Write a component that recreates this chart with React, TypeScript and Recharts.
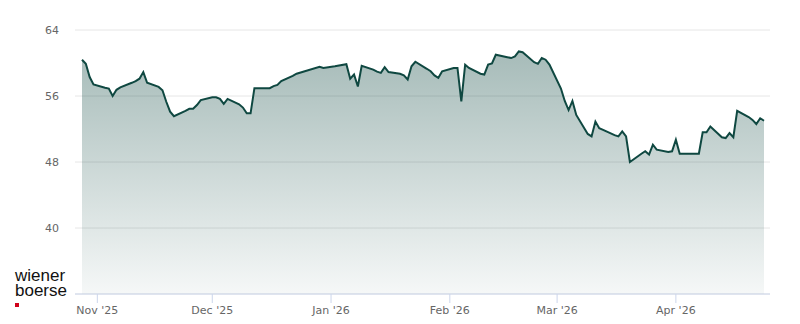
import React from "react";
import { AreaChart, Area, XAxis, YAxis, CartesianGrid } from "recharts";

// trading days and closing prices
const dates = [
  "2025-10-28", "2025-10-29", "2025-10-30", "2025-10-31",
  "2025-11-03", "2025-11-04", "2025-11-05", "2025-11-06", "2025-11-07",
  "2025-11-10", "2025-11-11", "2025-11-12", "2025-11-13", "2025-11-14",
  "2025-11-17", "2025-11-18", "2025-11-19", "2025-11-20", "2025-11-21",
  "2025-11-24", "2025-11-25", "2025-11-26", "2025-11-27", "2025-11-28",
  "2025-12-01", "2025-12-02", "2025-12-03", "2025-12-04", "2025-12-05",
  "2025-12-08", "2025-12-09", "2025-12-10", "2025-12-11", "2025-12-12",
  "2025-12-15", "2025-12-16", "2025-12-17", "2025-12-18", "2025-12-19",
  "2025-12-22", "2025-12-23", "2025-12-29", "2025-12-30",
  "2026-01-02", "2026-01-05", "2026-01-06", "2026-01-07", "2026-01-08", "2026-01-09",
  "2026-01-12", "2026-01-13", "2026-01-14", "2026-01-15", "2026-01-16",
  "2026-01-19", "2026-01-20", "2026-01-21", "2026-01-22", "2026-01-23",
  "2026-01-26", "2026-01-27", "2026-01-28", "2026-01-29", "2026-01-30",
  "2026-02-02", "2026-02-03", "2026-02-04", "2026-02-05", "2026-02-06",
  "2026-02-09", "2026-02-10", "2026-02-11", "2026-02-12", "2026-02-13",
  "2026-02-16", "2026-02-17", "2026-02-18", "2026-02-19", "2026-02-20",
  "2026-02-23", "2026-02-24", "2026-02-25", "2026-02-26", "2026-02-27",
  "2026-03-02", "2026-03-03", "2026-03-04", "2026-03-05", "2026-03-06",
  "2026-03-09", "2026-03-10", "2026-03-11", "2026-03-12", "2026-03-13",
  "2026-03-16", "2026-03-17", "2026-03-18", "2026-03-19", "2026-03-20",
  "2026-03-23", "2026-03-24", "2026-03-25", "2026-03-26", "2026-03-27",
  "2026-03-30", "2026-03-31", "2026-04-01", "2026-04-02",
  "2026-04-07", "2026-04-08", "2026-04-09", "2026-04-10",
  "2026-04-13", "2026-04-14", "2026-04-15", "2026-04-16", "2026-04-17",
  "2026-04-20", "2026-04-21", "2026-04-22", "2026-04-23", "2026-04-24",
];

const prices = [
  60.4, 59.9, 58.3, 57.4,
  57.0, 56.9, 56.0, 56.75, 57.05,
  57.6, 57.8, 58.1, 58.9, 57.6,
  57.1, 56.7, 55.3, 54.1, 53.55,
  54.2, 54.45, 54.45, 54.9, 55.5,
  55.85, 55.85, 55.65, 55.05, 55.65,
  55.0, 54.6, 53.9, 53.9, 56.95,
  56.95, 56.95, 57.2, 57.35, 57.8,
  58.45, 58.7, 59.55, 59.4,
  59.6, 59.85, 58.1, 58.6, 57.15, 59.65,
  59.2, 58.95, 58.8, 59.5, 58.9,
  58.7, 58.5, 58.0, 59.6, 60.15,
  59.3, 59.0, 58.5, 58.2, 59.0,
  59.4, 59.4, 55.35, 59.8, 59.4,
  58.7, 58.6, 59.8, 59.95, 61.0,
  60.7, 60.6, 60.8, 61.4, 61.3,
  60.1, 59.9, 60.6, 60.4, 59.8,
  56.9, 55.4, 54.3, 55.4, 53.7,
  51.4, 51.1, 52.9, 52.1, 51.9,
  51.25, 51.1, 51.7, 51.1, 48.0,
  49.0, 49.3, 48.9, 50.1, 49.5,
  49.2, 49.3, 50.7, 49.0,
  49.0, 51.6, 51.6, 52.3,
  51.0, 50.9, 51.5, 51.0, 54.2,
  53.45, 53.1, 52.6, 53.3, 53.0,
];

const monthTicks = ["2025-11-01", "2025-12-01", "2026-01-01", "2026-02-01", "2026-03-01", "2026-04-01"];
const monthNames = ["Jan", "Feb", "Mar", "Apr", "May", "Jun", "Jul", "Aug", "Sep", "Oct", "Nov", "Dec"];
const yTicks = [40, 48, 56, 64];

const toTs = (s: string) => {
  const [y, m, d] = s.split("-").map(Number);
  return Date.UTC(y, m - 1, d);
};

const data = dates.map((d, i) => ({ t: toTs(d), price: prices[i] }));
const xTicks = monthTicks.map(toTs);

const formatMonth = (ts: number) => {
  const d = new Date(ts);
  return `${monthNames[d.getUTCMonth()]} '${String(d.getUTCFullYear()).slice(2)}`;
};

const lineColor = "#0f4841";
const labelStyle = { fontFamily: "DejaVu Sans", fontSize: 11, fill: "#666666" };

export default function App() {
  return (
    <div style={{ position: "absolute", left: 0, top: 0, width: 800, height: 324, background: "#fff" }}>
      <AreaChart width={800} height={324} data={data} margin={{ top: 30, right: 30, left: 0, bottom: 0 }}>
        <defs>
          <linearGradient id="priceFill" x1="0" y1="0" x2="0" y2="1">
            <stop offset="0%" stopColor={lineColor} stopOpacity={0.37} />
            <stop offset="100%" stopColor={lineColor} stopOpacity={0.04} />
          </linearGradient>
        </defs>
        <CartesianGrid horizontal vertical={false} stroke="#e6e6e6" />
        <XAxis
          dataKey="t"
          type="number"
          scale="time"
          domain={["dataMin", "dataMax"]}
          ticks={xTicks}
          tickFormatter={formatMonth}
          padding={{ left: 7, right: 6 }}
          height={30}
          stroke="#ccd6eb"
          tickSize={9}
          tickMargin={3}
          tick={labelStyle}
        />
        <YAxis
          type="number"
          domain={[32, 64]}
          ticks={yTicks}
          width={75}
          axisLine={false}
          tickLine={false}
          tickMargin={10}
          tick={labelStyle}
        />
        <Area
          type="linear"
          dataKey="price"
          stroke={lineColor}
          strokeWidth={2}
          fill="url(#priceFill)"
          fillOpacity={1}
          baseValue="dataMin"
          dot={false}
          activeDot={false}
          isAnimationActive={false}
        />
      </AreaChart>
      <div
        style={{
          position: "absolute",
          left: 15,
          top: 268,
          fontFamily: "Liberation Sans, Arial, sans-serif",
          fontSize: 17,
          lineHeight: "15px",
          color: "#111",
        }}
      >
        <div>wiener</div>
        <div>boerse</div>
        <div style={{ width: 4, height: 4, background: "#d0021b", marginTop: 5 }} />
      </div>
    </div>
  );
}
